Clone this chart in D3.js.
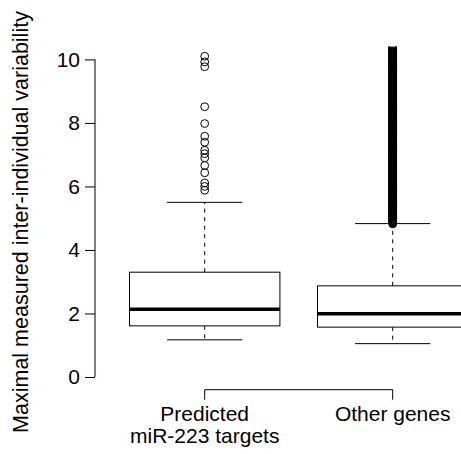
<!DOCTYPE html>
<html>
<head>
<meta charset="utf-8">
<script src="https://cdn.jsdelivr.net/npm/d3@7"></script>
<style>
  body { margin: 0; background: #fff; }
  text { font-family: "Liberation Sans", Arial, sans-serif; }
</style>
</head>
<body>
<svg class="chart"></svg>
<script>
// categories and box statistics
var categories = ["Predicted\nmiR-223 targets", "Other genes"];
var lowerWhisker = [1.17, 1.05];
var q1 = [1.61, 1.57];
var median = [2.13, 1.99];
var q3 = [3.30, 2.87];
var upperWhisker = [5.50, 4.83];

// outliers, predicted targets
var outliersPredicted = [10.10, 9.92, 9.77, 8.51, 7.98, 7.58, 7.39, 7.14, 7.03, 6.90,
    6.66, 6.43, 6.11, 6.00, 5.88];
// outliers, other genes (thousands of genes, so they merge into a solid column)
var outliersOther = [4.82, 4.84, 4.86, 4.88, 4.90, 4.92, 4.94, 4.96, 4.98,
    5.00, 5.02, 5.04, 5.06, 5.08, 5.10, 5.12, 5.14, 5.16, 5.18, 5.20, 5.22, 5.24, 5.26, 5.28,
    5.30, 5.32, 5.34, 5.36, 5.38, 5.40, 5.42, 5.44, 5.46, 5.48, 5.50, 5.52, 5.54, 5.56, 5.58,
    5.60, 5.62, 5.64, 5.66, 5.68, 5.70, 5.72, 5.74, 5.76, 5.78, 5.80, 5.82, 5.84, 5.86, 5.88,
    5.90, 5.92, 5.94, 5.96, 5.98,
    6.00, 6.02, 6.04, 6.06, 6.08, 6.10, 6.12, 6.14, 6.16, 6.18, 6.20, 6.22, 6.24, 6.26, 6.28,
    6.30, 6.32, 6.34, 6.36, 6.38, 6.40, 6.42, 6.44, 6.46, 6.48, 6.50, 6.52, 6.54, 6.56, 6.58,
    6.60, 6.62, 6.64, 6.66, 6.68, 6.70, 6.72, 6.74, 6.76, 6.78, 6.80, 6.82, 6.84, 6.86, 6.88,
    6.90, 6.92, 6.94, 6.96, 6.98,
    7.00, 7.02, 7.04, 7.06, 7.08, 7.10, 7.12, 7.14, 7.16, 7.18, 7.20, 7.22, 7.24, 7.26, 7.28,
    7.30, 7.32, 7.34, 7.36, 7.38, 7.40, 7.42, 7.44, 7.46, 7.48, 7.50, 7.52, 7.54, 7.56, 7.58,
    7.60, 7.62, 7.64, 7.66, 7.68, 7.70, 7.72, 7.74, 7.76, 7.78, 7.80, 7.82, 7.84, 7.86, 7.88,
    7.90, 7.92, 7.94, 7.96, 7.98,
    8.00, 8.02, 8.04, 8.06, 8.08, 8.10, 8.12, 8.14, 8.16, 8.18, 8.20, 8.22, 8.24, 8.26, 8.28,
    8.30, 8.32, 8.34, 8.36, 8.38, 8.40, 8.42, 8.44, 8.46, 8.48, 8.50, 8.52, 8.54, 8.56, 8.58,
    8.60, 8.62, 8.64, 8.66, 8.68, 8.70, 8.72, 8.74, 8.76, 8.78, 8.80, 8.82, 8.84, 8.86, 8.88,
    8.90, 8.92, 8.94, 8.96, 8.98,
    9.00, 9.02, 9.04, 9.06, 9.08, 9.10, 9.12, 9.14, 9.16, 9.18, 9.20, 9.22, 9.24, 9.26, 9.28,
    9.30, 9.32, 9.34, 9.36, 9.38, 9.40, 9.42, 9.44, 9.46, 9.48, 9.50, 9.52, 9.54, 9.56, 9.58,
    9.60, 9.62, 9.64, 9.66, 9.68, 9.70, 9.72, 9.74, 9.76, 9.78, 9.80, 9.82, 9.84, 9.86, 9.88,
    9.90, 9.92, 9.94, 9.96, 9.98,
    10.00, 10.02, 10.04, 10.06, 10.08, 10.10, 10.12, 10.14, 10.16, 10.18, 10.20, 10.22,
    10.24, 10.26, 10.28, 10.30, 10.32, 10.34, 10.36, 10.38, 10.40, 10.42, 10.44, 10.46];
var outliers = [outliersPredicted, outliersOther];

var yTicks = [0, 2, 4, 6, 8, 10];
var yTitle = "Maximal measured inter-individual variability";

(function show() {
    'use strict';

    var width = 461, height = 454;
    var plot = {top: 46.7, bottom: 389.7, left: 110.7, right: 486.7};

    var svg = d3.select(".chart")
        .attr("width", width)
        .attr("height", height);

    var y = d3.scaleLinear().domain([-0.4, 10.4]).range([plot.bottom, plot.top]);
    var x = d3.scaleBand().domain(categories)
        .range([plot.left, plot.right])
        .paddingInner(0.2).paddingOuter(0.1);
    var bw = x.bandwidth();
    var cx = function (c) { return x(c) + bw / 2; };

    svg.append("defs").append("clipPath").attr("id", "clip")
        .append("rect")
        .attr("x", 0).attr("y", plot.top)
        .attr("width", width).attr("height", plot.bottom - plot.top);

    var g = svg.append("g").attr("clip-path", "url(#clip)");

    var rows = categories.map(function (c, i) {
        return {c: c, lo: lowerWhisker[i], q1: q1[i], med: median[i], q3: q3[i],
                hi: upperWhisker[i], out: outliers[i]};
    });

    var box = g.selectAll(".box").data(rows).enter().append("g").attr("class", "box");

    // whiskers (dashed)
    box.append("line")
        .attr("x1", function (d) { return cx(d.c); })
        .attr("x2", function (d) { return cx(d.c); })
        .attr("y1", function (d) { return y(d.q3); })
        .attr("y2", function (d) { return y(d.hi); })
        .attr("stroke", "#000").attr("stroke-dasharray", "4,4.5");
    box.append("line")
        .attr("x1", function (d) { return cx(d.c); })
        .attr("x2", function (d) { return cx(d.c); })
        .attr("y1", function (d) { return y(d.q1); })
        .attr("y2", function (d) { return y(d.lo); })
        .attr("stroke", "#000").attr("stroke-dasharray", "4,4.5");

    // caps
    ["lo", "hi"].forEach(function (k) {
        box.append("line")
            .attr("x1", function (d) { return cx(d.c) - bw / 4; })
            .attr("x2", function (d) { return cx(d.c) + bw / 4; })
            .attr("y1", function (d) { return y(d[k]); })
            .attr("y2", function (d) { return y(d[k]); })
            .attr("stroke", "#000");
    });

    // box
    box.append("rect")
        .attr("x", function (d) { return x(d.c); })
        .attr("y", function (d) { return y(d.q3); })
        .attr("width", bw)
        .attr("height", function (d) { return y(d.q1) - y(d.q3); })
        .attr("fill", "#fff").attr("stroke", "#000");

    // median
    box.append("line")
        .attr("x1", function (d) { return x(d.c); })
        .attr("x2", function (d) { return x(d.c) + bw; })
        .attr("y1", function (d) { return y(d.med); })
        .attr("y2", function (d) { return y(d.med); })
        .attr("stroke", "#000").attr("stroke-width", 3.5);

    // outliers
    box.selectAll("circle")
        .data(function (d) { return d.out.map(function (v) { return {c: d.c, v: v}; }); })
        .enter().append("circle")
        .attr("cx", function (d) { return cx(d.c); })
        .attr("cy", function (d) { return y(d.v); })
        .attr("r", 3.9)
        .attr("fill", "none").attr("stroke", "#000");

    // y axis
    var axisX = 95;
    var ya = svg.append("g")
        .attr("transform", "translate(" + axisX + ",0)")
        .call(d3.axisLeft(y).tickValues(yTicks).tickSize(10).tickPadding(5));
    ya.select(".domain").remove();
    ya.selectAll("text").style("font-size", "21px")
        .attr("font-family", null).attr("fill", "#000");
    ya.append("line")
        .attr("x1", 0).attr("x2", 0)
        .attr("y1", y(yTicks[0])).attr("y2", y(yTicks[yTicks.length - 1]))
        .attr("stroke", "#000");

    // y title
    svg.append("text")
        .attr("transform", "translate(28," + 222 + ") rotate(-90)")
        .attr("text-anchor", "middle")
        .style("font-size", "21.5px")
        .text(yTitle);

    // x axis bracket
    var xa = svg.append("g")
        .attr("transform", "translate(0," + plot.bottom + ")")
        .call(d3.axisBottom(x).tickSize(10).tickFormat(""));
    xa.select(".domain").remove();
    xa.append("line")
        .attr("x1", cx(categories[0])).attr("x2", cx(categories[categories.length - 1]))
        .attr("y1", 0).attr("y2", 0)
        .attr("stroke", "#000");

    var labels = svg.selectAll(".xlab").data(categories).enter().append("text")
        .attr("class", "xlab")
        .attr("text-anchor", "middle")
        .style("font-size", "21px");
    labels.selectAll("tspan")
        .data(function (c) { return c.split("\n").map(function (s) { return {c: c, s: s}; }); })
        .enter().append("tspan")
        .attr("x", function (d) { return cx(d.c); })
        .attr("y", function (d, i) { return 421 + i * 22; })
        .text(function (d) { return d.s; });
})();
</script>
</body>
</html>
